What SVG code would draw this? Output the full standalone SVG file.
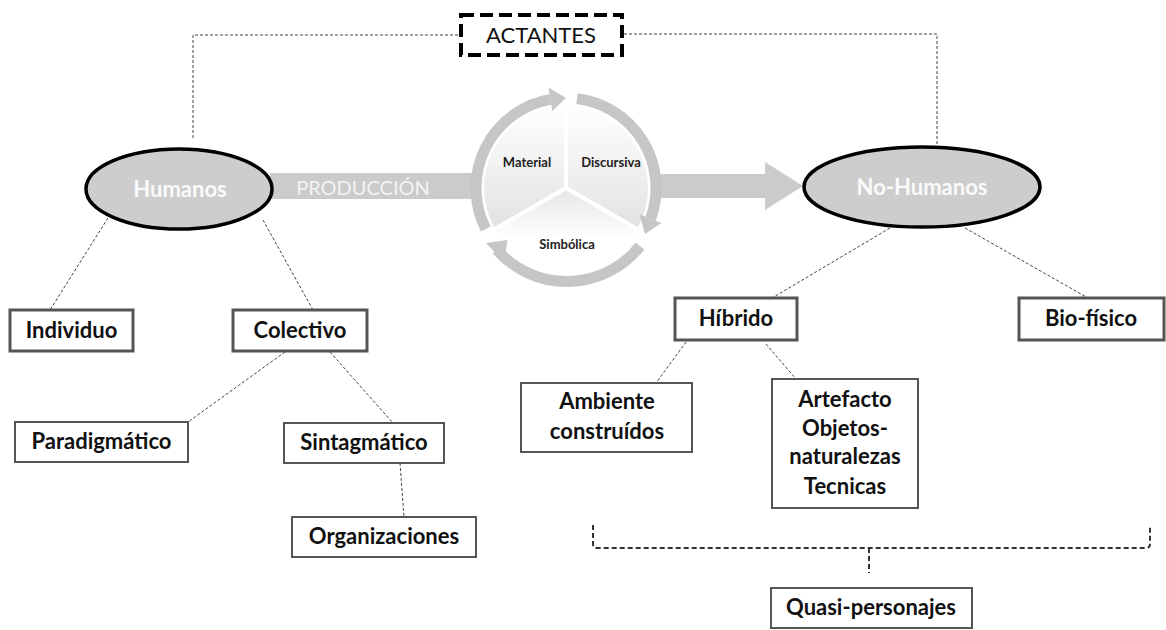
<svg xmlns="http://www.w3.org/2000/svg" width="1166" height="630" viewBox="0 0 1166 630">
<defs>
<style>
.t{font-family:Lato,"Open Sans","Liberation Sans",sans-serif;fill:#111;text-anchor:middle}
.b{font-weight:bold;font-size:22px}
.bx{fill:#fff;stroke:#555}
.thick{stroke-width:3}
.thin{stroke-width:2}
.dl{fill:none;stroke:#444;stroke-width:1;stroke-dasharray:3 2}
.ell{fill:#cdcdcd;stroke:#000;stroke-width:3.5}
.et{font-family:Lato,"Open Sans","Liberation Sans",sans-serif;font-weight:bold;font-size:22px;fill:#fafafa;text-anchor:middle}
.arc{fill:none;stroke:#c6c6c6;stroke-width:11}
.ah{fill:#c6c6c6}
.seg{stroke:#fff;stroke-width:4}
.st{font-family:Lato,"Open Sans","Liberation Sans",sans-serif;font-weight:bold;font-size:13px;fill:#222;text-anchor:middle}
</style>
<linearGradient id="gTop" x1="0" y1="0" x2="0" y2="1">
<stop offset="0" stop-color="#ffffff"/>
<stop offset="1" stop-color="#e2e2e2"/>
</linearGradient>
<linearGradient id="gBot" x1="0" y1="0" x2="0" y2="1">
<stop offset="0" stop-color="#e6e6e6"/>
<stop offset="0.6" stop-color="#ffffff"/>
</linearGradient>
</defs>

<g id="connectors">
<path class="dl" d="M193,138 V35 H459"/>
<path class="dl" d="M624,34 H937 V150"/>
<path class="dl" d="M108,218 L50,310"/>
<path class="dl" d="M263,220 L313,310"/>
<path class="dl" d="M285,352 L188,422"/>
<path class="dl" d="M330,352 L393,423"/>
<path class="dl" d="M400,463 L404,517"/>
<path class="dl" d="M890,228 L772,298"/>
<path class="dl" d="M965,228 L1088,298"/>
<path class="dl" d="M686,342 L656,383"/>
<path class="dl" d="M766,344 L796,379"/>
<path fill="none" stroke="#333" stroke-width="2" stroke-dasharray="5 3" d="M593,525 V544 Q593,548 597,548 H1146 Q1150,548 1150,544 V525"/>
<path fill="none" stroke="#333" stroke-width="2" stroke-dasharray="5 3" d="M869,548 V573"/>
</g>

<g id="produccion">
<rect x="270" y="173" width="205" height="26" fill="#cbcbcb"/>
<polygon points="660,174 765,174 765,162 803,186 765,210 765,198 660,198" fill="#cbcbcb"/>
<text x="363" y="195" font-family="Lato,'Open Sans','Liberation Sans',sans-serif" font-size="20" fill="#f4f4f4" text-anchor="middle">PRODUCCIÓN</text>
</g>

<g id="cycle">
<path class="seg" fill="url(#gTop)" d="M566,188 L566,104 A84,84 0 0 0 493.3,230 Z"/>
<path class="seg" fill="url(#gTop)" d="M566,188 L566,104 A84,84 0 0 1 638.7,230 Z"/>
<path class="seg" fill="url(#gBot)" d="M566,188 L638.7,230 A84,84 0 0 1 493.3,230 Z"/>
<path class="arc" d="M485.8,228.9 A90,90 0 0 1 550.4,99.4"/>
<polygon class="ah" points="548.5,87.5 566,98 552.3,111"/>
<path class="arc" d="M577,98.6 A90,90 0 0 1 650.6,218.8"/>
<polygon class="ah" points="661.5,223 645,234 639.5,214.5"/>
<path class="arc" d="M640,246 A93,93 0 0 1 497,250"/>
<polygon class="ah" points="504,262 486,243 507.5,240"/>
<text class="st" x="527" y="167">Material</text>
<text class="st" x="611" y="167">Discursiva</text>
<text class="st" x="567" y="249">Simbólica</text>
</g>

<g id="actantes">
<rect x="461" y="15" width="161" height="40" fill="#fff" stroke="#000" stroke-width="4" stroke-dasharray="13 6"/>
<text x="541" y="43" font-family="Lato,'Open Sans','Liberation Sans',sans-serif" font-size="22" fill="#111" text-anchor="middle">ACTANTES</text>
</g>

<g id="humanos">
<ellipse class="ell" cx="179" cy="189" rx="93" ry="40"/>
<text class="et" x="180" y="197">Humanos</text>
</g>

<g id="no-humanos">
<ellipse class="ell" cx="922" cy="187" rx="118" ry="40"/>
<text class="et" x="922" y="195">No-Humanos</text>
</g>

<g id="individuo"><rect class="bx thick" x="10" y="310" width="123" height="41"/><text class="t b" x="71.5" y="338">Individuo</text></g>
<g id="colectivo"><rect class="bx thick" x="233" y="310" width="134" height="41"/><text class="t b" x="300" y="338">Colectivo</text></g>
<g id="paradigmatico"><rect class="bx thin" x="15" y="422" width="173" height="40"/><text class="t b" x="101.5" y="449">Paradigmático</text></g>
<g id="sintagmatico"><rect class="bx thin" x="284" y="423" width="160" height="40"/><text class="t b" x="364" y="450">Sintagmático</text></g>
<g id="organizaciones"><rect class="bx thin" x="292" y="517" width="184" height="40"/><text class="t b" x="384" y="544">Organizaciones</text></g>
<g id="hibrido"><rect class="bx thick" x="675" y="298" width="122" height="42"/><text class="t b" x="736" y="326">Híbrido</text></g>
<g id="biofisico"><rect class="bx thick" x="1019" y="298" width="145" height="42"/><text class="t b" x="1091" y="326">Bio-físico</text></g>
<g id="ambiente"><rect class="bx thin" x="521" y="383" width="171" height="69"/><text class="t b" x="607" y="409">Ambiente</text><text class="t b" x="607" y="439">construídos</text></g>
<g id="artefacto"><rect class="bx thin" x="772" y="379" width="146" height="129"/><text class="t b" x="845" y="407">Artefacto</text><text class="t b" x="845" y="436">Objetos-</text><text class="t b" x="845" y="464">naturalezas</text><text class="t b" x="845" y="494">Tecnicas</text></g>
<g id="quasi"><rect class="bx thin" x="771" y="588" width="201" height="40"/><text class="t b" x="871" y="615">Quasi-personajes</text></g>
</svg>
